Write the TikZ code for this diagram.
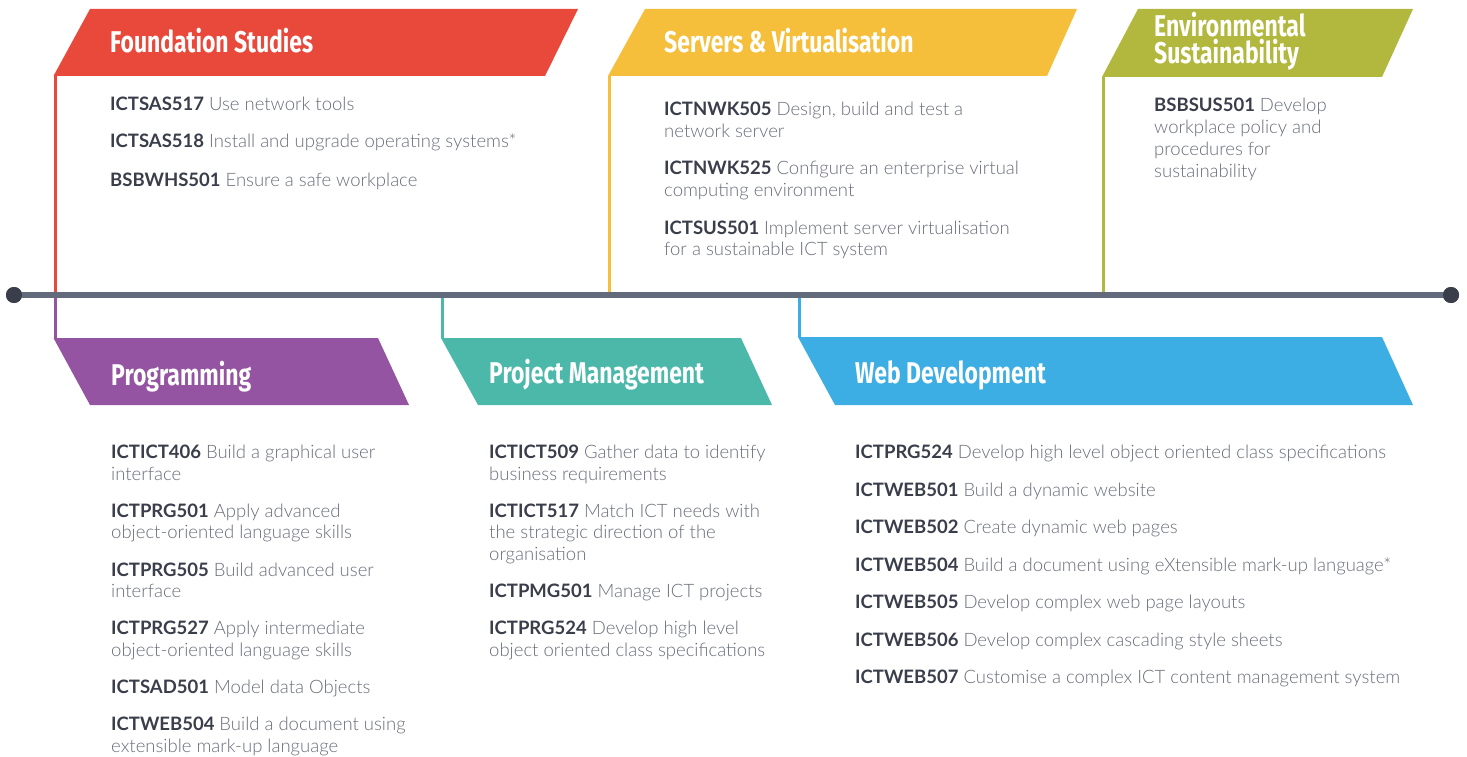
\documentclass[tikz,border=0pt]{standalone}
\usepackage{fontspec}
\setmainfont{Lato}
\newfontfamily\lightfont{Lato Light}
\newfontfamily\titlefont[FakeStretch=0.765]{Fira Sans}
\definecolor{cred}{HTML}{E8493A}
\definecolor{cyel}{HTML}{F6BF3B}
\definecolor{coli}{HTML}{B2B83D}
\definecolor{cpur}{HTML}{9454A1}
\definecolor{cteal}{HTML}{4BB8AA}
\definecolor{cblue}{HTML}{3DAEE3}
\definecolor{cline}{HTML}{636A7C}
\definecolor{cdot}{HTML}{3A3E4B}
\definecolor{ccode}{HTML}{3A3E4B}
\definecolor{cdesc}{HTML}{6A6E7B}
\newcommand\cd[1]{{\normalfont\bfseries\color{ccode}#1}}
\begin{document}
\begin{tikzpicture}[x=1pt,y=-1pt,
  ttl/.style={anchor=base west,inner sep=0pt,text=white,font=\titlefont\bfseries\fontsize{30}{28}\selectfont},
  ln/.style={anchor=base west,inner sep=0pt,text=cdesc,font=\lightfont\fontsize{18.5}{22}\selectfont},
  conn/.style={line width=3pt},
  tline/.style={line width=5.5pt,cline},
  tdot/.style={circle,fill=cdot,minimum size=16pt,inner sep=0pt}]
\useasboundingbox (0,0) rectangle (1467,757);
\fill[white] (0,0) rectangle (1467,757);

% timeline end points
\node[tdot] (tlL) at (14,295) {};
\node[tdot] (tlR) at (1451,295) {};

% banner coordinates (connector feet)
\coordinate (fsB) at (55,76);
\coordinate (svB) at (609.5,76);
\coordinate (evB) at (1103.5,77);
\coordinate (prB) at (55,338);
\coordinate (pmB) at (442.5,338);
\coordinate (wdB) at (799.5,337);

% connectors
\draw[conn,cred] (fsB) -- (fsB |- tlL);
\draw[conn,cyel] (svB) -- (svB |- tlL);
\draw[conn,coli] (evB) -- (evB |- tlL);
\draw[conn,cpur] (prB |- tlL) -- (prB);
\draw[conn,cteal] (pmB |- tlL) -- (pmB);
\draw[conn,cblue] (wdB |- tlL) -- (wdB);
\draw[tline] (tlL.center) -- (tlR.center);
\fill[cdot] (tlL.center) circle[radius=8pt];
\fill[cdot] (tlR.center) circle[radius=8pt];

% banners
\fill[cred] (53.5,76) -- (90,9) -- (578,9) -- (545,76) -- cycle;
\fill[cyel] (608,76) -- (645,9) -- (1077,9) -- (1047,76) -- cycle;
\fill[coli] (1102,77) -- (1138,9) -- (1413,9) -- (1382,77) -- cycle;
\fill[cpur] (53.5,338) -- (378,338) -- (409,405) -- (90,405) -- cycle;
\fill[cteal] (441,338) -- (741,338) -- (772,405) -- (478,405) -- cycle;
\fill[cblue] (798,337) -- (1382,337) -- (1413,405) -- (835,405) -- cycle;

% titles
\node[ttl] (tfs) at (110,53) {Foundation Studies};
\node[ttl] (tsv) at (664,53) {Servers \& Virtualisation};
\node[ttl,text height=20pt,text depth=0pt] (tev1) at (1154,37) {Environmental};
\node[ttl,text height=20pt,text depth=0pt] (tev2) at (1154,64) {Sustainability};
\node[ttl] (tpr) at (111,385) {Programming};
\node[ttl] (tpm) at (489,383) {Project Management};
\node[ttl] (twd) at (855,383) {Web Development};

% Foundation Studies
\node[ln] (f1) at (110,111) {\cd{ICTSAS517} Use network tools};
\node[ln] (f2) at (110,148) {\cd{ICTSAS518} Install and upgrade operating systems*};
\node[ln] (f3) at (110,186) {\cd{BSBWHS501} Ensure a safe workplace};

% Servers & Virtualisation
\node[ln] (s1a) at (664,116) {\cd{ICTNWK505} Design, build and test a};
\node[ln] (s1b) at (664,138) {network server};
\node[ln] (s2a) at (664,175) {\cd{ICTNWK525} Configure an enterprise virtual};
\node[ln] (s2b) at (664,196) {computing environment};
\node[ln] (s3a) at (664,234) {\cd{ICTSUS501} Implement server virtualisation};
\node[ln] (s3b) at (664,255) {for a sustainable ICT system};

% Environmental Sustainability
\node[ln] (e1) at (1154,112) {\cd{BSBSUS501} Develop};
\node[ln] (e2) at (1154,134) {workplace policy and};
\node[ln] (e3) at (1154,156) {procedures for};
\node[ln] (e4) at (1154,177) {sustainability};

% Programming
\node[ln] (p1a) at (111,458) {\cd{ICTICT406} Build a graphical user};
\node[ln] (p1b) at (111,480) {interface};
\node[ln] (p2a) at (111,517) {\cd{ICTPRG501} Apply advanced};
\node[ln] (p2b) at (111,538) {object-oriented language skills};
\node[ln] (p3a) at (111,576) {\cd{ICTPRG505} Build advanced user};
\node[ln] (p3b) at (111,597) {interface};
\node[ln] (p4a) at (111,634) {\cd{ICTPRG527} Apply intermediate};
\node[ln] (p4b) at (111,656) {object-oriented language skills};
\node[ln] (p5) at (111,693) {\cd{ICTSAD501} Model data Objects};
\node[ln] (p6a) at (111,730) {\cd{ICTWEB504} Build a document using};
\node[ln] (p6b) at (111,752) {extensible mark-up language};

% Project Management
\node[ln] (m1a) at (489,458) {\cd{ICTICT509} Gather data to identify};
\node[ln] (m1b) at (489,480) {business requirements};
\node[ln] (m2a) at (489,517) {\cd{ICTICT517} Match ICT needs with};
\node[ln] (m2b) at (489,538) {the strategic direction of the};
\node[ln] (m2c) at (489,560) {organisation};
\node[ln] (m3) at (489,597) {\cd{ICTPMG501} Manage ICT projects};
\node[ln] (m4a) at (489,634) {\cd{ICTPRG524} Develop high level};
\node[ln] (m4b) at (489,656) {object oriented class specifications};

% Web Development
\node[ln] (w1) at (855,458) {\cd{ICTPRG524} Develop high level object oriented class specifications};
\node[ln] (w2) at (855,496) {\cd{ICTWEB501} Build a dynamic website};
\node[ln] (w3) at (855,533) {\cd{ICTWEB502} Create dynamic web pages};
\node[ln] (w4) at (855,571) {\cd{ICTWEB504} Build a document using eXtensible mark-up language*};
\node[ln] (w5) at (855,608) {\cd{ICTWEB505} Develop complex web page layouts};
\node[ln] (w6) at (855,646) {\cd{ICTWEB506} Develop complex cascading style sheets};
\node[ln] (w7) at (855,683) {\cd{ICTWEB507} Customise a complex ICT content management system};
\end{tikzpicture}
\end{document}
